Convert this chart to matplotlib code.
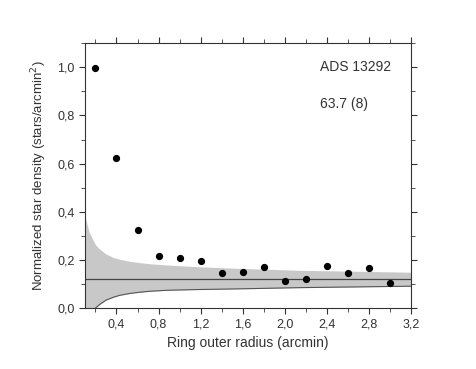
import numpy as np
import matplotlib.pyplot as plt
from matplotlib.ticker import MultipleLocator

plt.rcParams['font.family'] = ['Liberation Sans', 'DejaVu Sans']

# measured star density per ring
radius = [0.2, 0.4, 0.6, 0.8, 1.0, 1.2, 1.4, 1.6, 1.8, 2.0, 2.2, 2.4, 2.6, 2.8, 3.0]
density = [0.997, 0.624, 0.324, 0.215, 0.208, 0.194, 0.145, 0.152, 0.171,
           0.113, 0.120, 0.175, 0.146, 0.168, 0.105]

# background level and its error band
background = 0.12
band_x = [0.1, 0.14, 0.2, 0.24, 0.3, 0.37, 0.43, 0.53, 0.62, 0.72, 0.88, 1.16, 1.57, 2.14, 3.2]
band_hi = [0.384, 0.315, 0.263, 0.245, 0.225, 0.210, 0.203, 0.194, 0.189, 0.184, 0.179, 0.172, 0.165, 0.157, 0.149]
band_lo = [-0.04, -0.02, 0.0, 0.015, 0.033, 0.045, 0.053, 0.061, 0.066, 0.070, 0.074, 0.077, 0.080, 0.085, 0.091]

xticks = [0.4, 0.8, 1.2, 1.6, 2.0, 2.4, 2.8, 3.2]
yticks = [0.0, 0.2, 0.4, 0.6, 0.8, 1.0]

fig = plt.figure(figsize=(4.77, 3.69), dpi=100)
ax = fig.add_axes([0.178, 0.165, 0.684, 0.718])

ax.fill_between(band_x, band_lo, band_hi, color='#c8c8c8', lw=0)
ax.plot(band_x, band_lo, color='#555555', lw=0.8)
ax.axhline(background, color='#444444', lw=0.9)
ax.plot(radius, density, 'o', color='black', ms=4.2)

ax.set_xlim(0.1, 3.2)
ax.set_ylim(0, 1.1)
ax.set_xticks(xticks)
ax.set_xticklabels([f"{v:.1f}".replace('.', ',') for v in xticks])
ax.set_yticks(yticks)
ax.set_yticklabels([f"{v:.1f}".replace('.', ',') for v in yticks])
ax.xaxis.set_minor_locator(MultipleLocator(0.2))
ax.yaxis.set_minor_locator(MultipleLocator(0.1))
ax.tick_params(which='both', direction='out', top=True, right=True,
               labelsize=9, color='#333333', labelcolor='#333333')
ax.tick_params(which='major', length=4)
ax.tick_params(which='minor', length=3)
for s in ax.spines.values():
    s.set_color('#333333')

ax.set_xlabel("Ring outer radius (arcmin)", fontsize=10, color='#333333')
ax.set_ylabel("Normalized star density (stars/arcmin$^2$)", fontsize=9.5, color='#333333', labelpad=6)

ax.text(0.72, 0.91, "ADS 13292", transform=ax.transAxes, fontsize=10, color='#333333', va='center')
ax.text(0.72, 0.77, "63.7 (8)", transform=ax.transAxes, fontsize=10, color='#333333', va='center')

fig.savefig("out.png", dpi=100)
